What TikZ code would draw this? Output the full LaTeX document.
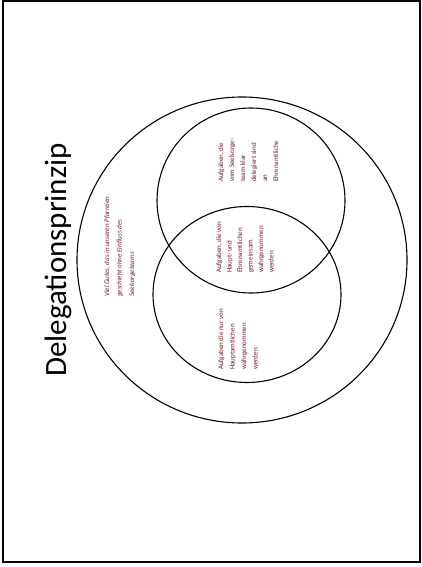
\documentclass[tikz,border=0pt]{standalone}
\usepackage{fontspec}
\setmainfont{Carlito}
\definecolor{txtred}{RGB}{115,25,35}
\begin{document}
\begin{tikzpicture}[x=1pt,y=-1pt,
  ring/.style={draw=black,line width=1.1pt},
  label/.style={rotate=90,anchor=north west,inner sep=0pt,text=txtred,
    font=\fontsize{7}{11}\selectfont,align=left},
  title/.style={rotate=90,anchor=base,inner sep=0pt,font=\fontsize{31}{36}\selectfont}]
\useasboundingbox (0,0) rectangle (422,567);
\draw[line width=2.2pt] (3.2,1.2) rectangle (420.3,561.7);
\coordinate (outer) at (242,260);
\coordinate (upper) at (251,200.5);
\coordinate (lower) at (247,294.5);
\draw[ring] (outer) ellipse [x radius=165, y radius=163];
\draw[ring] (upper) ellipse [x radius=94, y radius=92.5];
\draw[ring] (lower) ellipse [x radius=94, y radius=88];
\node[title] (t) at (66,260) {Delegationsprinzip};
\node[label,font=\fontsize{7}{12.5}\selectfont\itshape] (l) at (104,297)
  {Viel Gutes, das in unseren Pfarreien\\geschieht ohne Einfluss des\\Seelsorgeteams};
\node[label] (u) at (218,182)
  {Aufgaben, die\\vom Seelsorge-\\team klar\\delegiert sind\\an\\Ehrenamtliche};
\node[label,font=\fontsize{7}{10.5}\selectfont] (m) at (216,273)
  {Aufgaben, die von\\Haupt- und\\Ehrenamtlichen\\gemeinsam\\wahrgenommen\\werden};
\node[label,font=\fontsize{7}{11.5}\selectfont] (d) at (218,370)
  {Aufgaben die nur von\\Hauptamtlichen\\wahrgenommen\\werden.};
\end{tikzpicture}
\end{document}
